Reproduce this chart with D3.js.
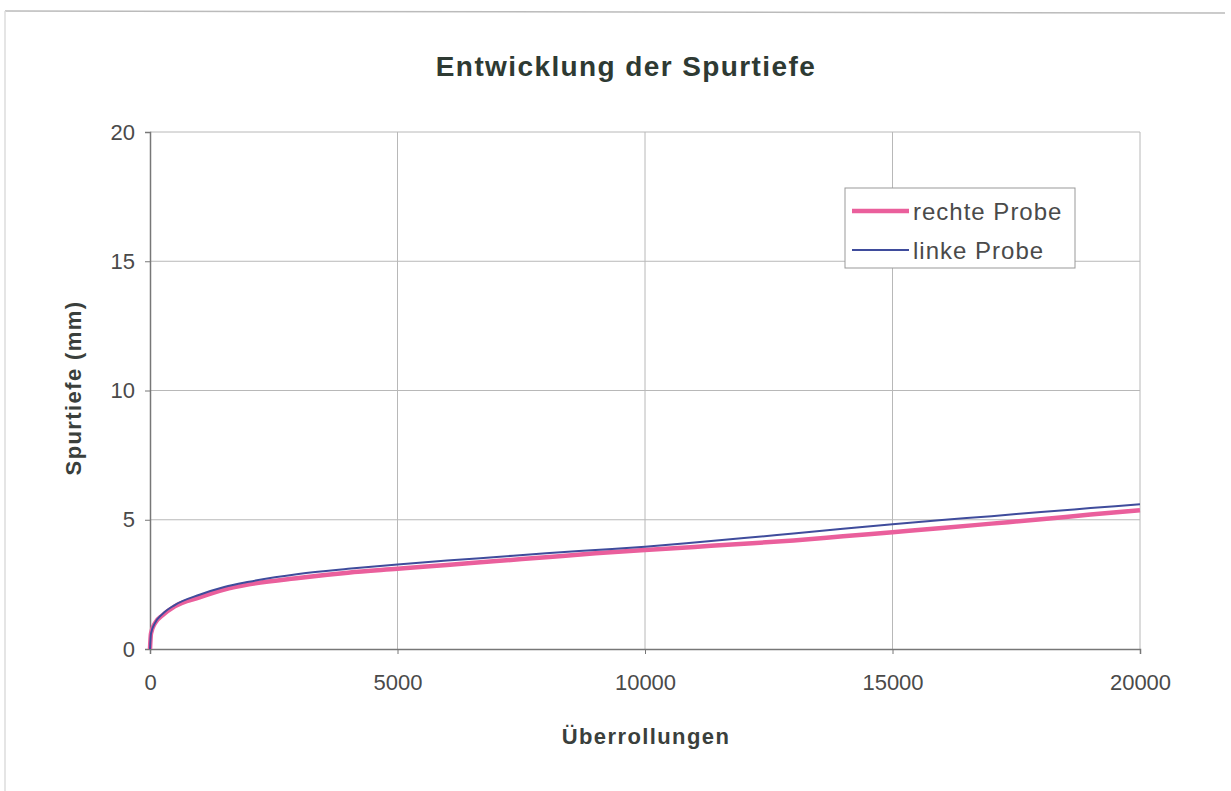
<!DOCTYPE html>
<html><head><meta charset="utf-8">
<script src="https://cdn.jsdelivr.net/npm/d3@7"></script>
<style>body{margin:0;background:#fff;} text{font-family:Arial,"Liberation Sans",sans-serif;}</style>
</head><body><svg id="c" width="1231" height="791"></svg>
<script>
const cycles = [0, 20, 100, 250, 500, 1000, 1500, 2000, 3000, 4000, 5000, 6000, 7000, 8000, 9000, 10000, 11000, 12000, 13000, 14000, 15000, 16000, 17000, 18000, 19000, 20000];
const rechteProbe = [0, 0.6, 1.0, 1.3, 1.65, 2.0, 2.3, 2.5, 2.75, 2.95, 3.1, 3.25, 3.4, 3.55, 3.7, 3.83, 3.95, 4.07, 4.2, 4.36, 4.52, 4.68, 4.85, 5.02, 5.2, 5.37];
const linkeProbe = [0, 0.6, 1.0, 1.35, 1.7, 2.1, 2.4, 2.6, 2.9, 3.1, 3.27, 3.42, 3.56, 3.7, 3.83, 3.96, 4.12, 4.29, 4.47, 4.65, 4.83, 4.99, 5.14, 5.3, 5.45, 5.6];
const xTicks = [0, 5000, 10000, 15000, 20000];
const yTicks = [0, 5, 10, 15, 20];
const seriesNames = ["rechte Probe", "linke Probe"];

const svg = d3.select("#c");
// scanned page frame
svg.append("line").attr("x1",5).attr("y1",11).attr("x2",1225).attr("y2",13).attr("stroke","#bbb").attr("stroke-width",1.5);
svg.append("line").attr("x1",5).attr("y1",11).attr("x2",5).attr("y2",791).attr("stroke","#ddd").attr("stroke-width",1.5);

const L=150,R=1140,T=132,B=649;
const x=d3.scaleLinear().domain([0,20000]).range([L,R]);
const y=d3.scaleLinear().domain([0,20]).range([B,T]);

const g=svg.append("g");
// grid
g.selectAll(".vg").data(xTicks.slice(1)).join("line").attr("x1",d=>x(d)).attr("x2",d=>x(d)).attr("y1",T).attr("y2",B).attr("stroke","#b8b8b8").attr("stroke-width",1);
g.selectAll(".hg").data(yTicks.slice(1)).join("line").attr("x1",L).attr("x2",R).attr("y1",d=>y(d)).attr("y2",d=>y(d)).attr("stroke","#b8b8b8").attr("stroke-width",1);

// axes
const xa=svg.append("g").attr("transform",`translate(0,${B})`).call(d3.axisBottom(x).tickValues(xTicks).tickFormat(d3.format("d")).tickSize(5).tickPadding(20));
const ya=svg.append("g").attr("transform",`translate(${L},0)`).call(d3.axisLeft(y).tickValues(yTicks).tickSize(5).tickPadding(10));
[xa,ya].forEach(a=>{a.select(".domain").attr("stroke","#777").attr("stroke-width",1.5);a.selectAll(".tick line").attr("stroke","#777");a.selectAll("text").attr("font-size",22).attr("fill","#4a4a4a").attr("font-family","Arial, Liberation Sans, sans-serif");});

// lines
const line=(vals)=>d3.line().x((d,i)=>x(cycles[i])).y(d=>y(d)).curve(d3.curveMonotoneX)(vals);
svg.append("path").attr("d",line(rechteProbe)).attr("fill","none").attr("stroke","#ea5f9c").attr("stroke-width",4.5);
svg.append("path").attr("d",line(linkeProbe)).attr("fill","none").attr("stroke","#3f4c9c").attr("stroke-width",2);

// legend
const lg=svg.append("g");
lg.append("rect").attr("x",845).attr("y",188).attr("width",230).attr("height",80).attr("fill","#fff").attr("stroke","#999").attr("stroke-width",1);
const colors=["#ea5f9c","#3f4c9c"], widths=[4.5,2];
seriesNames.forEach((n,i)=>{
  const yy=211+i*39;
  lg.append("line").attr("x1",852).attr("x2",909).attr("y1",yy).attr("y2",yy).attr("stroke",colors[i]).attr("stroke-width",widths[i]);
  lg.append("text").attr("x",913).attr("y",yy+9).attr("font-size",24).attr("letter-spacing",1).attr("fill","#4a4a4a").text(n);
});

// titles
svg.append("text").attr("x",626).attr("y",76).attr("text-anchor","middle").attr("font-size",28).attr("letter-spacing",1.4).attr("font-weight","bold").attr("fill","#2e3a33").text("Entwicklung der Spurtiefe");
svg.append("text").attr("x",646).attr("y",744).attr("text-anchor","middle").attr("font-size",22).attr("letter-spacing",1.4).attr("font-weight","bold").attr("fill","#3a3f3c").text("Überrollungen");
svg.append("text").attr("transform","translate(81,388) rotate(-90)").attr("text-anchor","middle").attr("font-size",22).attr("letter-spacing",1.4).attr("font-weight","bold").attr("fill","#3a3f3c").text("Spurtiefe (mm)");
</script></body></html>
